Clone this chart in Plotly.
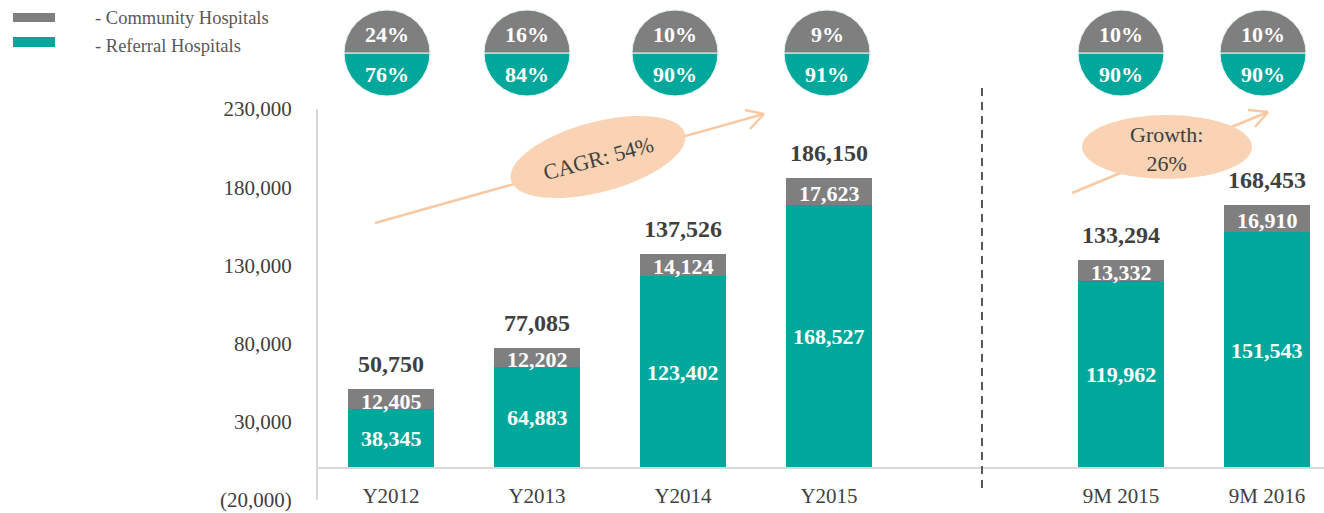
import math
import plotly.graph_objects as go

# ---------------- data ----------------
categories = ["Y2012", "Y2013", "Y2014", "Y2015", "9M 2015", "9M 2016"]
x_pos = [0, 1, 2, 3, 5, 6]
referral = [38345, 64883, 123402, 168527, 119962, 151543]
community = [12405, 12202, 14124, 17623, 13332, 16910]
totals = [50750, 77085, 137526, 186150, 133294, 168453]
community_share = ["24%", "16%", "10%", "9%", "10%", "10%"]
referral_share = ["76%", "84%", "90%", "91%", "90%", "90%"]
y_ticks = [-20000, 30000, 80000, 130000, 180000, 230000]
y_ticktext = ["(20,000)", "30,000", "80,000", "130,000", "180,000", "230,000"]

# ---------------- style ----------------
W, H = 1324, 513
FONT = "Liberation Serif"
GREY = "#7f7f7f"
TEAL = "#00a79b"
TXT = "#404040"
PEACH_FILL = "#f9d3b4"
PEACH_LINE = "#f9c9a3"


def px(x):
    return x / W


def py(y):
    return 1 - y / H


def fmt(v):
    return f"{v:,}"


def ann(x, y, text, size, color, bold=False, **kw):
    d = dict(x=x, y=y, text=text, showarrow=False, xanchor="center", yanchor="middle",
             font=dict(family=FONT, size=size, color=color, weight="bold" if bold else "normal"))
    d.update(kw)
    return d


fig = go.Figure()

fig.add_trace(go.Bar(x=x_pos, y=referral, name="Referral Hospitals",
                     marker=dict(color=TEAL, line=dict(width=0)), width=0.59,
                     hoverinfo="skip"))
fig.add_trace(go.Bar(x=x_pos, y=community, name="Community Hospitals",
                     marker=dict(color=GREY, line=dict(width=0)), width=0.59,
                     hoverinfo="skip"))

annotations = []
for xp, r, c, t in zip(x_pos, referral, community, totals):
    annotations.append(ann(xp, r / 2, fmt(r), 22, "white", True, xref="x", yref="y"))
    annotations.append(ann(xp, r + c / 2, fmt(c), 22, "white", True, xref="x", yref="y", yshift=-2))
    annotations.append(ann(xp, t, fmt(t), 24, TXT, True, xref="x", yref="y", yshift=25))

# ---------------- split-circle share icons ----------------
pie_cx = [387, 527, 675, 827, 1121, 1263]
pie_cy = 53
pie_r = 43
for cx, cs, rs in zip(pie_cx, community_share, referral_share):
    fig.add_trace(go.Pie(values=[1, 1], labels=["Referral Hospitals", "Community Hospitals"],
                         marker=dict(colors=[TEAL, GREY], line=dict(color="#e8f4f4", width=1)),
                         sort=False, direction="clockwise", rotation=90,
                         textinfo="none", hoverinfo="skip", showlegend=False,
                         domain=dict(x=[px(cx - pie_r), px(cx + pie_r)],
                                     y=[py(pie_cy + pie_r), py(pie_cy - pie_r)])))
    annotations.append(ann(px(cx), py(pie_cy - 19), cs, 22, "white", True, xref="paper", yref="paper"))
    annotations.append(ann(px(cx), py(pie_cy + 21), rs, 22, "white", True, xref="paper", yref="paper"))

shapes = []


def pline(x0, y0, x1, y1, color, width, dash=None):
    d = dict(type="line", xref="paper", yref="paper", x0=px(x0), y0=py(y0), x1=px(x1), y1=py(y1),
             line=dict(color=color, width=width))
    if dash:
        d["line"]["dash"] = dash
    return d


# CAGR arrow
shapes.append(pline(375, 223, 764, 114, PEACH_LINE, 2.5))
shapes.append(pline(745, 110, 764, 114, PEACH_LINE, 2.5))
shapes.append(pline(750, 129, 764, 114, PEACH_LINE, 2.5))
# Growth arrow
shapes.append(pline(1072, 193, 1268, 112, PEACH_LINE, 2.5))
shapes.append(pline(1248, 110, 1268, 112, PEACH_LINE, 2.5))
shapes.append(pline(1255, 127, 1268, 112, PEACH_LINE, 2.5))

# rotated ellipse for CAGR
ecx, ecy, ea, eb, th = 598, 157, 90, 35, math.radians(15)
pts = []
for k in range(73):
    t = 2 * math.pi * k / 72
    xx = ecx + ea * math.cos(t) * math.cos(th) - eb * math.sin(t) * math.sin(th)
    yy = ecy - (ea * math.cos(t) * math.sin(th) + eb * math.sin(t) * math.cos(th))
    pts.append(f"{px(xx):.5f},{py(yy):.5f}")
shapes.append(dict(type="path", xref="paper", yref="paper",
                   path="M " + " L ".join(pts) + " Z",
                   fillcolor=PEACH_FILL, line=dict(width=0)))
# Growth ellipse
shapes.append(dict(type="circle", xref="paper", yref="paper",
                   x0=px(1082), x1=px(1252), y0=py(179), y1=py(115),
                   fillcolor=PEACH_FILL, line=dict(width=0)))

annotations.append(ann(px(598), py(159), "CAGR: 54%", 22, TXT, xref="paper", yref="paper", textangle=-15))
annotations.append(ann(px(1166), py(149), "Growth:<br>26%", 22, TXT, xref="paper", yref="paper"))

# dashed separator
shapes.append(pline(982, 88, 982, 493, "#595959", 2, dash="8px,6px"))

# legend
shapes.append(dict(type="rect", xref="paper", yref="paper", x0=px(13), x1=px(55), y0=py(22), y1=py(13),
                   fillcolor=GREY, line=dict(width=0)))
shapes.append(dict(type="rect", xref="paper", yref="paper", x0=px(13), x1=px(55), y0=py(47), y1=py(37),
                   fillcolor=TEAL, line=dict(width=0)))
annotations.append(ann(px(93), py(18), "- Community Hospitals", 18.5, "#595959",
                       xref="paper", yref="paper", xanchor="left"))
annotations.append(ann(px(93), py(46), "- Referral Hospitals", 18.5, "#595959",
                       xref="paper", yref="paper", xanchor="left"))

fig.update_layout(
    width=W, height=H, margin=dict(l=0, r=0, t=0, b=0, pad=0, autoexpand=False),
    paper_bgcolor="white", plot_bgcolor="white",
    barmode="stack", showlegend=False,
    shapes=shapes, annotations=annotations,
    xaxis=dict(domain=[px(318), 1], range=[-0.5, (W - 391) / 146],
               anchor="free", position=py(468), automargin=False,
               tickvals=x_pos, ticktext=categories,
               ticks="outside", ticklen=9, tickcolor="rgba(0,0,0,0)",
               tickfont=dict(family=FONT, size=21, color=TXT),
               showline=True, linecolor="#d9d9d9", linewidth=2,
               showgrid=False, zeroline=False),
    yaxis=dict(domain=[py(500), py(109)], range=[-20000, 230000], automargin=False,
               tickvals=y_ticks, ticktext=y_ticktext,
               ticks="outside", ticklen=20, tickcolor="rgba(0,0,0,0)",
               tickfont=dict(family=FONT, size=21, color=TXT),
               showline=True, linecolor="#d9d9d9", linewidth=2,
               showgrid=False, zeroline=False),
)

fig.write_html("out.html", config={"displayModeBar": False},
               post_script="document.body.style.margin='0';document.body.style.overflow='hidden';")
